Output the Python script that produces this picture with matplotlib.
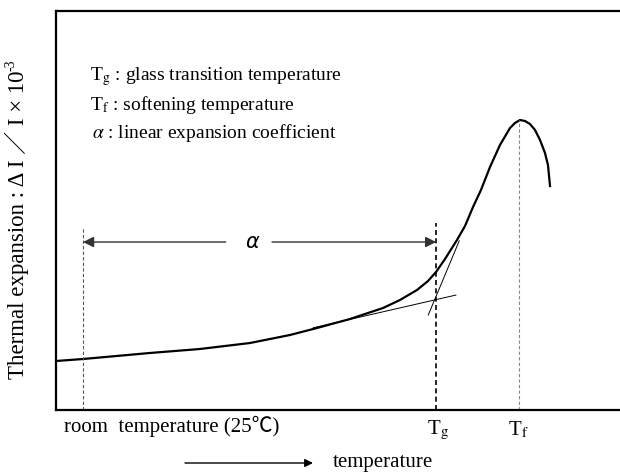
import numpy as np
import matplotlib
matplotlib.use("Agg")
from matplotlib import pyplot as plt

plt.rcParams['mathtext.fontset'] = 'stix'

# expansion curve (temperature, expansion), arbitrary units 0-100
temp = [0.0, 4.79, 16.67, 25.53, 34.40, 41.49, 46.28, 52.13, 57.98, 60.99, 64.01,
        65.96, 67.38, 68.97, 71.10, 72.52, 73.94, 75.35, 76.95, 78.72, 80.50, 81.38,
        82.27, 83.16, 84.04, 84.93, 85.82, 86.70, 87.23, 87.59]
expan = [12.28, 12.78, 14.29, 15.29, 16.79, 18.80, 20.55, 22.81, 25.56, 27.57, 30.08,
         32.33, 34.59, 37.84, 42.61, 46.12, 50.88, 55.14, 60.90, 66.42, 70.68, 71.93,
         72.68, 72.43, 71.68, 70.18, 67.67, 64.41, 61.40, 56.14]

# tangent lines at the glass transition
tan_low_x = [45.6, 70.9]
tan_low_y = [20.6, 28.8]
tan_high_x = [66.0, 71.5]
tan_high_y = [23.8, 42.4]

# marker temperatures and heights of their dashed lines
t_room, t_g, t_f = 4.8, 67.4, 82.1
h_room, h_g, h_f = 45.9, 46.9, 72.7

fig = plt.figure(figsize=(6.2, 4.72), dpi=100)
ax = fig.add_axes([56 / 620, 62 / 472, 1 - 56 / 620, 399 / 472])
ax.set_xlim(0, 100)
ax.set_ylim(0, 100)
ax.set_xticks([])
ax.set_yticks([])
ax.spines['right'].set_visible(False)
for s in ['left', 'top', 'bottom']:
    ax.spines[s].set_linewidth(1.6)

ax.plot(temp, expan, color='black', lw=1.6, solid_joinstyle='round')
ax.plot(tan_low_x, tan_low_y, color='black', lw=0.7)
ax.plot(tan_high_x, tan_high_y, color='black', lw=0.7)

ax.plot([t_room, t_room], [0, h_room], color='#555555', lw=0.8, ls=(0, (3, 2)))
ax.plot([t_g, t_g], [0, h_g], color='black', lw=1.2, ls=(0, (3, 2)))
ax.plot([t_f, t_f], [0, h_f], color='#888888', lw=0.8, ls=(0, (3, 2)))

# alpha range arrow with a gap for the label
arrow_y = 42.1
mid = 34.75
aprops = dict(arrowstyle='-|>', color='#333333', lw=1.0, mutation_scale=16, shrinkA=0, shrinkB=0)
ax.annotate('', xy=(t_room, arrow_y), xytext=(30.1, arrow_y), arrowprops=aprops)
ax.annotate('', xy=(t_g, arrow_y), xytext=(38.3, arrow_y), arrowprops=aprops)
ax.text(mid, arrow_y, 'α', fontsize=15, style='italic', ha='center', va='center',
        family=['DejaVu Sans'])

serif = ['Liberation Serif', 'Noto Sans CJK JP', 'DejaVu Serif']
ax.text(6.0, 83.5, r'T$_{\mathrm{g}}$ : glass transition temperature', fontsize=14,
        family=serif, va='center')
ax.text(6.0, 76.5, r'T$_{\mathrm{f}}$ : softening temperature', fontsize=14,
        family=serif, va='center')
ax.text(6.4, 69.5, r'$\mathit{\alpha}$ : linear expansion coefficient', fontsize=14,
        family=serif, va='center')

# y label, with the exponent as its own small text on top
ylab = fig.text(17 / 620, 1 - 225 / 472, 'Thermal expansion : Δ I ／ I × 10', rotation=90,
                fontsize=16.5, family=serif, ha='center', va='center')
fig.canvas.draw()
bb = ylab.get_window_extent().transformed(fig.transFigure.inverted())
fig.text(bb.x0, bb.y1, '-3', rotation=90, fontsize=10, family=serif, ha='left', va='bottom')

fig.text(64 / 620, 1 - 426 / 472, 'room  temperature (25℃)', fontsize=15, family=serif,
         va='center')
fig.text(438 / 620, 1 - 430 / 472, r'T$_{\mathrm{g}}$', fontsize=15, family=serif,
         ha='center', va='center')
fig.text(518 / 620, 1 - 430 / 472, r'T$_{\mathrm{f}}$', fontsize=15, family=serif,
         ha='center', va='center')

fig.patches.append(matplotlib.patches.FancyArrowPatch(
    (185 / 620, 1 - 463 / 472), (313 / 620, 1 - 463 / 472), transform=fig.transFigure,
    arrowstyle='-|>', mutation_scale=12, color='black', lw=1.0, shrinkA=0, shrinkB=0))
fig.text(333 / 620, 1 - 463 / 472, 'temperature', fontsize=15,
         family=serif, va='center')

fig.savefig('out.png', dpi=100)
